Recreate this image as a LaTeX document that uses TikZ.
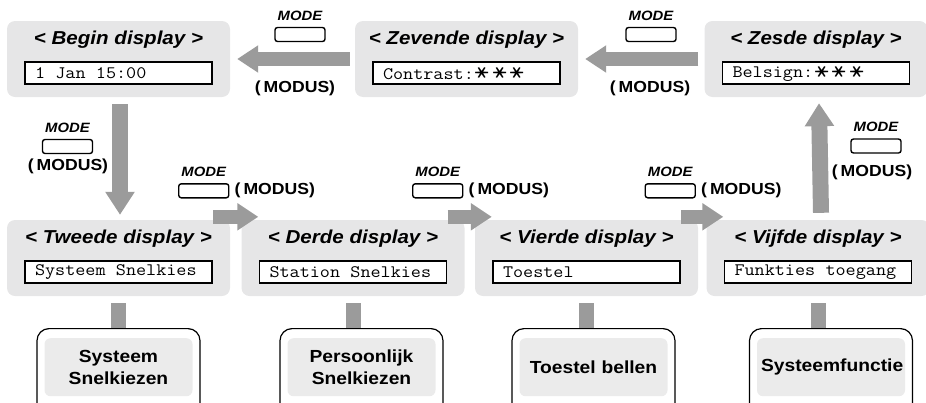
\documentclass[tikz,border=0pt]{standalone}
\usepackage{fontspec}
\usepackage{graphicx}
\setsansfont[FakeStretch=1.1]{Liberation Sans}
\newfontfamily\cjkfont{Noto Sans CJK JP}
\usepackage{tikz}
\usetikzlibrary{positioning, arrows.meta, calc}
\definecolor{cPanel}{HTML}{E6E6E7}
\definecolor{cArrow}{HTML}{9B9B9B}
\definecolor{cKey}{HTML}{EBEBEB}

\newcommand{\lcdstar}{\rotatebox[origin=c]{90}{\cjkfont\bfseries\fontsize{15}{15}\selectfont ＊}}
\newcommand{\lcdstars}{\kern2pt\lcdstar\kern4pt\lcdstar\kern4pt\lcdstar}
\newcommand{\lcdtext}[1]{{\spaceskip=0.525em\relax\scalebox{1.12}[1]{#1}}}

\begin{document}
\begin{tikzpicture}[x=1pt, y=-1pt,
  panel/.style={fill=cPanel, rounded corners=8pt, minimum width=223pt, minimum height=76pt, inner sep=0pt},
  paneltitle/.style={inner sep=0pt, anchor=base, font=\sffamily\bfseries\itshape\fontsize{18.7}{20}\selectfont},
  lcd/.style={draw, line width=1.7pt, fill=white, minimum width=187pt, minimum height=22pt,
    text width=167pt, inner xsep=10pt, inner ysep=0pt, align=left,
    font=\ttfamily\fontsize{17.5}{17.5}\selectfont},
  modekey/.style={draw, line width=1.4pt, rounded corners=2.5pt, minimum width=50pt, minimum height=14pt, inner sep=0pt},
  modetext/.style={inner sep=0pt, font=\sffamily\bfseries\itshape\fontsize{13.5}{14}\selectfont},
  modus/.style={inner sep=0pt, font=\sffamily\bfseries\fontsize{16}{17}\selectfont},
  bigarrow/.style={draw=cArrow, line width=14pt, -{Triangle[width=26pt, length=21pt]}},
  vertarrow/.style={draw=cArrow, line width=16pt, -{Triangle[width=28pt, length=23pt]}},
  stub/.style={draw=cArrow, line width=15pt},
  funcframe/.style={draw, line width=1.2pt, rounded corners=12pt, minimum width=163pt, minimum height=100pt, anchor=north},
  funcbox/.style={fill=cKey, rounded corners=6pt, minimum width=148pt, minimum height=58pt, text width=140pt,
    inner xsep=4pt, align=center, anchor=north, font=\sffamily\bfseries\fontsize{17.5}{22}\selectfont},
]
\useasboundingbox (0,0) rectangle (926,402);
\clip (0,0) rectangle (926,402);

% display panels
\node[panel] (begin) at (118.5,59) {};
\node[panel] (zev) at (466.5,59) {};
\node[panel] (zes) at (816,59) {};
\node[panel] (twe) at (118.5,258) {};
\node[panel] (der) at (353,258) {};
\node[panel] (vie) at (586.5,258) {};
\node[panel] (vij) at (818,258) {};

\foreach \p/\t/\s in {begin/Begin/{1 Jan 15:00}, zev/Zevende/{Contrast:\lcdstars}, zes/Zesde/{Belsign:\lcdstars},
    twe/Tweede/{Systeem Snelkies}, der/Derde/{Station Snelkies}, vie/Vierde/{Toestel}, vij/Vijfde/{Funkties toegang}}{
  \node[paneltitle] (\p-title) at ([yshift=-24pt]\p.north) {< \t\ display >};
  \node[lcd] (\p-lcd) at ([yshift=-52.5pt]\p.north) {\lcdtext{\s}};
}

% MODE keys
\node[modekey] (key7) at (300,34.5) {};
\node[modetext, above=6pt of key7] (key7-t) {MODE};
\node[modus] (modus7) at (295,88) {(\kern3pt MODUS)};
\node[modekey] (key6) at (651,34.5) {};
\node[modetext, above=6pt of key6] (key6-t) {MODE};
\node[modus] (modus6) at (650,88) {(\kern3pt MODUS)};
\node[modekey] (key1) at (67.5,146.5) {};
\node[modetext, above=6pt of key1] (key1-t) {MODE};
\node[modus] (modus1) at (68,166) {(\kern3pt MODUS)};
\node[modekey] (key5) at (876,146) {};
\node[modetext, above=6pt of key5] (key5-t) {MODE};
\node[modus] (modus5) at (872,172) {(\kern3pt MODUS)};

% arrows
\draw[bigarrow] ([xshift=-5pt]zev.west) -- ([xshift=7pt]begin.east);
\draw[bigarrow] ([xshift=-6pt]zes.west) -- ([xshift=7pt]zev.east);
\draw[vertarrow] ([xshift=1.5pt,yshift=-7pt]begin.south) -- ([xshift=1.5pt,yshift=5pt]twe.north);
\draw[vertarrow] ([xshift=3pt,yshift=7pt]vij.north) -- ([xshift=3pt,yshift=-6pt]zes.south);
\foreach \a/\b/\n in {twe/der/2, der/vie/3, vie/vij/4}{
  \draw[bigarrow] ([xshift=-17pt,yshift=3pt]\a.north east) -- ([xshift=17pt,yshift=3pt]\b.north west);
  \node[modekey] (key\n) at ($(\a.north east)!.5!(\b.north west) + (-32,-29)$) {};
  \node[modetext, above=6pt of key\n] (key\n-t) {MODE};
  \node[modus, right=5pt of key\n] (modus\n) {(\kern3pt MODUS)};
}

% functions
\foreach \p/\n/\x/\f in {twe/1/118.5/{Systeem\\Snelkiezen}, der/2/361.5/{Persoonlijk\\Snelkiezen},
    vie/3/593.5/{Toestel bellen}, vij/4/831/{Systeemfunctie}}{
  \node[funcframe] (frame\n) at (\x,328) {};
  \node[funcbox] (func\n) at ([yshift=-10pt]frame\n.north) {\f};
  \draw[stub] ([yshift=-7pt]\p.south) -- (\p.south |- frame\n.north);
}
\end{tikzpicture}
\end{document}
